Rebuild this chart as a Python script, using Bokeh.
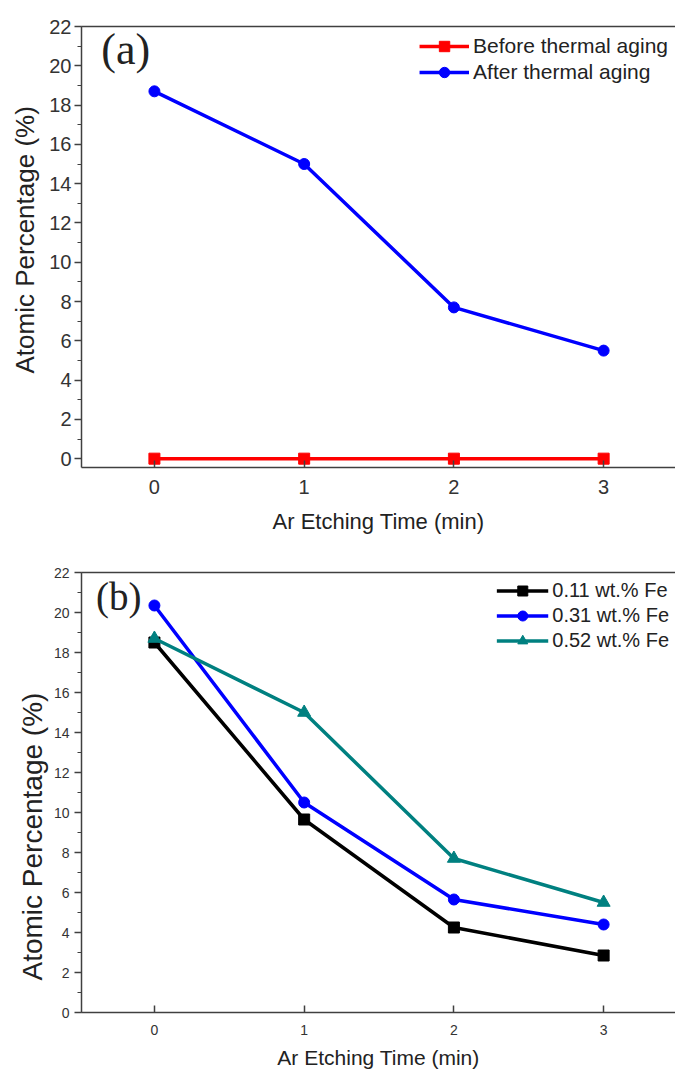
from bokeh.plotting import figure
from bokeh.layouts import column
from bokeh.models import Range1d, FixedTicker, SingleIntervalTicker, LinearAxis, Label, Title
from bokeh.embed import file_html
from bokeh.resources import INLINE

# ---- data ----
etch_time = [0, 1, 2, 3]
before_aging = [0.0, 0.0, 0.0, 0.0]
after_aging = [18.7, 15.0, 7.7, 5.5]

fe_011 = [18.5, 9.65, 4.25, 2.85]
fe_031 = [20.35, 10.5, 5.65, 4.4]
fe_052 = [18.7, 15.0, 7.7, 5.5]

x_ticks = [0, 1, 2, 3]
x_title = "Ar Etching Time (min)"
y_title = "Atomic Percentage (%)"
AX = "#404040"
SANS = "Liberation Sans"


def style(p, tick_size, xlabel_size, x_std, xl_std, y_std):
    p.xgrid.visible = False
    p.ygrid.visible = False
    p.outline_line_color = None
    p.background_fill_color = "white"
    p.border_fill_color = "white"
    xa = p.below[0]
    ya = p.left[0]
    for ax in (xa, ya):
        ax.axis_line_color = AX
        ax.axis_line_width = 1.5
        ax.major_tick_line_color = AX
        ax.major_tick_line_width = 1.5
        ax.minor_tick_line_color = AX
        ax.minor_tick_line_width = 1.2
        ax.major_label_text_font = SANS
        ax.major_label_text_font_size = tick_size
        ax.major_label_text_color = "#333333"
        ax.axis_label_text_font = SANS
        ax.axis_label_text_font_style = "normal"
        ax.axis_label_text_color = "#222222"
    xa.axis_label_text_font_size = xlabel_size
    xa.ticker = FixedTicker(ticks=x_ticks)
    xa.major_tick_in = 7
    xa.major_tick_out = 0
    xa.minor_tick_in = 0
    xa.minor_tick_out = 0
    xa.major_label_standoff = x_std
    xa.axis_label_standoff = xl_std
    ya.ticker = SingleIntervalTicker(interval=2, num_minor_ticks=2)
    ya.major_tick_in = 0
    ya.major_tick_out = 7
    ya.minor_tick_in = 0
    ya.minor_tick_out = 4
    ya.major_label_standoff = y_std
    # top border line only
    top = LinearAxis(ticker=FixedTicker(ticks=[]), major_label_text_font_size="0px",
                     axis_line_color=AX, axis_line_width=1.5,
                     major_tick_line_color=None, minor_tick_line_color=None)
    p.add_layout(top, "above")


def add_ylabel(p, size, offset, standoff):
    t = Title(text=y_title, align="left", offset=offset, standoff=standoff,
              text_font=SANS, text_font_size=size, text_font_style="normal",
              text_color="#222222")
    p.add_layout(t, "left")


def style_legend(p, font_size, glyph_w, row_h, margin):
    lg = p.legend[0]
    lg.location = "top_right"
    lg.margin = margin
    lg.padding = 0
    lg.spacing = 0
    lg.border_line_color = None
    lg.background_fill_alpha = 0
    lg.glyph_width = glyph_w
    lg.glyph_height = row_h
    lg.label_height = row_h
    lg.label_text_font = SANS
    lg.label_text_font_size = font_size
    lg.label_text_color = "#222222"
    lg.label_standoff = 4


# ---- panel (a) ----
pa = figure(width=675, height=545, output_backend="svg", toolbar_location=None,
            x_range=Range1d(-0.487, 3.48), y_range=Range1d(-0.45, 22),
            min_border_left=80, min_border_right=0, min_border_top=26, min_border_bottom=78,
            x_axis_label=x_title)
style(pa, "20px", "22px", 12, 12, 3)
add_ylabel(pa, "26px", 94, 14)

pa.line(etch_time, before_aging, color="#FF0000", line_width=3.5, legend_label="Before thermal aging")
pa.scatter(etch_time, before_aging, marker="square", size=11, color="#FF0000",
           legend_label="Before thermal aging")
pa.line(etch_time, after_aging, color="#0000FF", line_width=3.5, legend_label="After thermal aging")
pa.scatter(etch_time, after_aging, marker="circle", size=11, color="#0000FF",
           legend_label="After thermal aging")

pa.add_layout(Label(x=-0.355, y=20.85, text="(a)", text_font="Liberation Serif",
                    text_font_size="44px", text_baseline="middle", text_color="#222222"))
style_legend(pa, "21px", 50, 26, 7)

# ---- panel (b) ----
pb = figure(width=675, height=530, output_backend="svg", toolbar_location=None,
            x_range=Range1d(-0.487, 3.48), y_range=Range1d(0, 22),
            min_border_left=80, min_border_right=0, min_border_top=27, min_border_bottom=63,
            x_axis_label=x_title)
style(pb, "14px", "21px", 12, 8, 5)
add_ylabel(pb, "28px", 32, 5)

series = [
    (fe_011, "#000000", "square", 11, "0.11 wt.% Fe"),
    (fe_031, "#0000FF", "circle", 11, "0.31 wt.% Fe"),
    (fe_052, "#008080", "triangle", 13, "0.52 wt.% Fe"),
]
for ys, col, mk, sz, lab in series:
    pb.line(etch_time, ys, color=col, line_width=3.5, legend_label=lab)
    pb.scatter(etch_time, ys, marker=mk, size=sz, color=col, legend_label=lab)

pb.add_layout(Label(x=-0.39, y=20.8, text="(b)", text_font="Liberation Serif",
                    text_font_size="39px", text_baseline="middle", text_color="#222222"))
style_legend(pb, "20px", 52, 25, 6)

layout = column(pa, pb, spacing=0)
open("out.html", "w").write(file_html(layout, INLINE))
